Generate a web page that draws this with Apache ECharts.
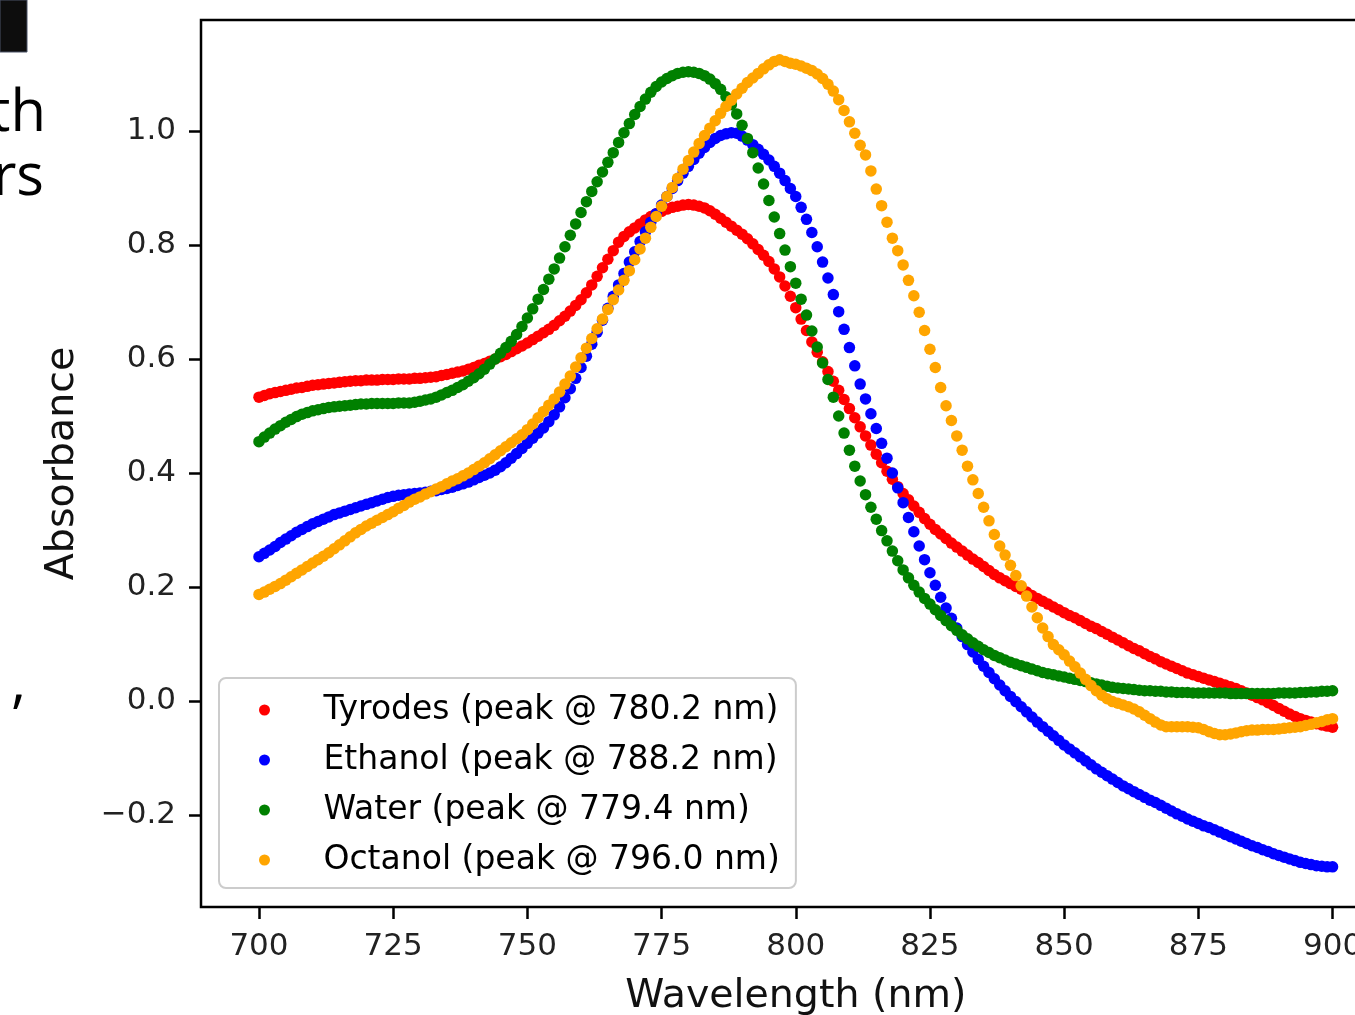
<!DOCTYPE html>
<html>
<head>
<meta charset="utf-8">
<script src="https://cdn.jsdelivr.net/npm/echarts@6/dist/echarts.min.js"></script>
<style>
html,body{margin:0;padding:0;background:#fff;overflow:hidden;width:1355px;height:1015px;}
#chart{width:1400px;height:1015px;}
</style>
</head>
<body>
<div id="chart"></div>
<script>
const wavelength = [
700,701,702,703,704,705,706,707,708,709,710,711,712,713,714,715,716,717,718,719,
720,721,722,723,724,725,726,727,728,729,730,731,732,733,734,735,736,737,738,739,
740,741,742,743,744,745,746,747,748,749,750,751,752,753,754,755,756,757,758,759,
760,761,762,763,764,765,766,767,768,769,770,771,772,773,774,775,776,777,778,779,
780,781,782,783,784,785,786,787,788,789,790,791,792,793,794,795,796,797,798,799,
800,801,802,803,804,805,806,807,808,809,810,811,812,813,814,815,816,817,818,819,
820,821,822,823,824,825,826,827,828,829,830,831,832,833,834,835,836,837,838,839,
840,841,842,843,844,845,846,847,848,849,850,851,852,853,854,855,856,857,858,859,
860,861,862,863,864,865,866,867,868,869,870,871,872,873,874,875,876,877,878,879,
880,881,882,883,884,885,886,887,888,889,890,891,892,893,894,895,896,897,898,899,
900];

const tyrodes = [
0.533,0.536,0.539,0.541,0.543,0.545,0.547,0.549,0.550,0.552,
0.554,0.555,0.556,0.557,0.558,0.559,0.560,0.561,0.562,0.562,
0.563,0.563,0.563,0.564,0.564,0.564,0.565,0.565,0.565,0.566,
0.566,0.567,0.568,0.569,0.571,0.573,0.575,0.577,0.579,0.582,
0.585,0.589,0.592,0.596,0.600,0.604,0.608,0.613,0.618,0.623,
0.628,0.634,0.640,0.646,0.652,0.659,0.667,0.675,0.684,0.694,
0.704,0.716,0.730,0.745,0.760,0.775,0.790,0.805,0.815,0.823,
0.830,0.837,0.844,0.850,0.855,0.859,0.863,0.866,0.868,0.870,
0.871,0.870,0.868,0.865,0.860,0.854,0.847,0.840,0.833,0.826,
0.819,0.811,0.802,0.792,0.782,0.771,0.758,0.744,0.728,0.710,
0.690,0.670,0.650,0.630,0.612,0.595,0.578,0.561,0.545,0.529,
0.513,0.497,0.481,0.465,0.449,0.433,0.418,0.403,0.389,0.376,
0.364,0.353,0.342,0.331,0.320,0.310,0.301,0.293,0.285,0.277,
0.270,0.263,0.256,0.249,0.243,0.236,0.229,0.222,0.216,0.211,
0.206,0.201,0.196,0.191,0.185,0.180,0.175,0.170,0.165,0.160,
0.155,0.150,0.146,0.141,0.136,0.131,0.127,0.122,0.117,0.112,
0.107,0.102,0.097,0.092,0.088,0.083,0.078,0.074,0.069,0.065,
0.061,0.057,0.053,0.049,0.046,0.043,0.040,0.037,0.034,0.031,
0.028,0.025,0.022,0.018,0.014,0.010,0.006,0.002,-0.003,-0.008,
-0.013,-0.018,-0.023,-0.027,-0.031,-0.034,-0.037,-0.040,-0.042,-0.044,
-0.046];

const ethanol = [
0.253,0.259,0.265,0.271,0.278,0.284,0.290,0.296,0.301,0.306,
0.311,0.315,0.319,0.323,0.327,0.330,0.333,0.336,0.339,0.342,
0.345,0.348,0.351,0.354,0.357,0.359,0.361,0.362,0.363,0.364,
0.365,0.366,0.368,0.369,0.371,0.373,0.375,0.378,0.381,0.384,
0.388,0.392,0.396,0.400,0.405,0.411,0.418,0.426,0.434,0.443,
0.452,0.461,0.470,0.479,0.490,0.502,0.516,0.532,0.548,0.566,
0.585,0.605,0.626,0.647,0.668,0.689,0.710,0.730,0.750,0.770,
0.788,0.806,0.823,0.840,0.855,0.870,0.885,0.899,0.913,0.926,
0.938,0.950,0.961,0.971,0.980,0.987,0.992,0.995,0.997,0.996,
0.991,0.984,0.976,0.968,0.959,0.949,0.938,0.926,0.913,0.899,
0.885,0.866,0.845,0.822,0.797,0.770,0.742,0.713,0.683,0.652,
0.620,0.588,0.556,0.530,0.504,0.478,0.452,0.426,0.400,0.374,
0.348,0.322,0.297,0.272,0.248,0.225,0.203,0.182,0.163,0.145,
0.128,0.113,0.099,0.086,0.073,0.061,0.050,0.039,0.028,0.018,
0.008,-0.001,-0.010,-0.019,-0.028,-0.037,-0.045,-0.053,-0.061,-0.069,
-0.077,-0.084,-0.091,-0.098,-0.105,-0.112,-0.119,-0.125,-0.131,-0.137,
-0.143,-0.149,-0.154,-0.159,-0.164,-0.169,-0.174,-0.178,-0.183,-0.188,
-0.193,-0.198,-0.202,-0.207,-0.211,-0.215,-0.219,-0.222,-0.226,-0.230,
-0.234,-0.238,-0.242,-0.246,-0.250,-0.254,-0.257,-0.261,-0.264,-0.268,
-0.271,-0.274,-0.277,-0.280,-0.283,-0.285,-0.287,-0.289,-0.290,-0.291,
-0.291];

const water = [
0.455,0.463,0.470,0.477,0.483,0.489,0.494,0.499,0.503,0.506,
0.509,0.511,0.513,0.515,0.516,0.517,0.518,0.519,0.520,0.521,
0.521,0.522,0.522,0.522,0.522,0.522,0.523,0.523,0.523,0.524,
0.526,0.528,0.530,0.533,0.537,0.541,0.545,0.550,0.555,0.561,
0.567,0.574,0.582,0.591,0.600,0.610,0.620,0.631,0.643,0.657,
0.672,0.688,0.705,0.722,0.740,0.758,0.777,0.797,0.817,0.837,
0.857,0.876,0.894,0.911,0.928,0.945,0.962,0.980,0.997,1.013,
1.029,1.043,1.056,1.068,1.078,1.086,1.092,1.097,1.101,1.103,
1.104,1.103,1.101,1.097,1.091,1.083,1.073,1.060,1.046,1.030,
1.010,0.987,0.962,0.935,0.907,0.878,0.849,0.820,0.791,0.762,
0.733,0.705,0.677,0.649,0.621,0.593,0.564,0.533,0.500,0.470,
0.440,0.412,0.386,0.362,0.340,0.319,0.299,0.281,0.263,0.246,
0.230,0.216,0.203,0.191,0.180,0.170,0.160,0.150,0.141,0.132,
0.124,0.116,0.109,0.102,0.096,0.090,0.085,0.080,0.076,0.072,
0.068,0.065,0.062,0.059,0.056,0.053,0.050,0.048,0.046,0.044,
0.042,0.040,0.038,0.036,0.034,0.032,0.030,0.028,0.026,0.024,
0.023,0.022,0.021,0.020,0.019,0.018,0.018,0.017,0.017,0.016,
0.016,0.015,0.015,0.015,0.014,0.014,0.014,0.014,0.014,0.014,
0.014,0.013,0.013,0.013,0.013,0.013,0.013,0.013,0.013,0.013,
0.014,0.014,0.014,0.014,0.015,0.015,0.016,0.016,0.017,0.017,
0.018];

const octanol = [
0.187,0.191,0.196,0.201,0.206,0.212,0.218,0.224,0.230,0.236,
0.242,0.248,0.254,0.260,0.267,0.274,0.281,0.288,0.295,0.301,
0.307,0.312,0.317,0.322,0.327,0.332,0.338,0.343,0.349,0.354,
0.358,0.363,0.367,0.372,0.376,0.381,0.386,0.390,0.395,0.400,
0.406,0.412,0.418,0.425,0.432,0.439,0.446,0.453,0.460,0.467,
0.476,0.486,0.497,0.508,0.519,0.530,0.542,0.556,0.570,0.586,
0.602,0.619,0.636,0.653,0.670,0.687,0.704,0.721,0.738,0.755,
0.774,0.793,0.812,0.831,0.850,0.868,0.885,0.901,0.917,0.933,
0.948,0.963,0.978,0.992,1.005,1.018,1.031,1.043,1.054,1.065,
1.075,1.085,1.093,1.101,1.109,1.116,1.122,1.125,1.122,1.119,
1.117,1.114,1.110,1.106,1.100,1.092,1.082,1.070,1.055,1.036,
1.016,0.996,0.975,0.958,0.930,0.898,0.869,0.840,0.812,0.790,
0.765,0.738,0.711,0.682,0.650,0.617,0.585,0.550,0.518,0.492,
0.465,0.440,0.412,0.388,0.364,0.340,0.316,0.292,0.272,0.256,
0.238,0.220,0.202,0.184,0.165,0.146,0.128,0.113,0.099,0.090,
0.081,0.070,0.060,0.049,0.038,0.027,0.018,0.010,0.004,-0.001,
-0.004,-0.007,-0.010,-0.014,-0.019,-0.025,-0.031,-0.037,-0.042,-0.045,
-0.045,-0.045,-0.045,-0.045,-0.046,-0.047,-0.050,-0.054,-0.057,-0.059,
-0.059,-0.058,-0.056,-0.054,-0.052,-0.051,-0.051,-0.050,-0.050,-0.050,
-0.049,-0.048,-0.047,-0.046,-0.045,-0.043,-0.041,-0.038,-0.036,-0.033,
-0.031];

const seriesNames = [
  'Tyrodes (peak @ 780.2 nm)',
  'Ethanol (peak @ 788.2 nm)',
  'Water (peak @ 779.4 nm)',
  'Octanol (peak @ 796.0 nm)'
];
const seriesValues = [tyrodes, ethanol, water, octanol];
const seriesColors = ['#ff0000', '#0000ff', '#008000', '#ffa500'];

const xTicks = [700, 725, 750, 775, 800, 825, 850, 875, 900];
const yTicks = [-0.2, 0.0, 0.2, 0.4, 0.6, 0.8, 1.0];

const FONT = 'DejaVu Sans';

const chart = echarts.init(document.getElementById('chart'), null, {renderer: 'canvas'});

const series = seriesNames.map((name, i) => ({
  name: name,
  type: 'scatter',
  data: wavelength.map((w, j) => [w, seriesValues[i][j]]),
  symbol: 'circle',
  symbolSize: 11.5,
  itemStyle: {color: seriesColors[i], opacity: 1},
  emphasis: {disabled: true},
  z: 2 + i
}));

chart.setOption({
  animation: false,
  backgroundColor: '#ffffff',
  grid: {
    left: 201, top: 20, width: 1189.5, height: 887,
    show: true, borderColor: '#000', borderWidth: 2.5, backgroundColor: 'transparent',
    containLabel: false, outerBoundsMode: 'none'
  },
  xAxis: {
    type: 'value', min: 689.2, max: 910.8,
    axisLine: {show: false, onZero: false},
    splitLine: {show: false},
    axisTick: {show: true, length: 12, lineStyle: {color: '#000', width: 2.5}, customValues: xTicks},
    axisLabel: {customValues: xTicks, fontSize: 31, color: '#222', fontFamily: FONT, margin: 24},
    name: 'Wavelength (nm)', nameLocation: 'middle', nameGap: 70,
    nameTextStyle: {fontSize: 39.5, color: '#111', fontFamily: FONT}
  },
  yAxis: {
    type: 'value', min: -0.3614, max: 1.1947,
    axisLine: {show: false, onZero: false},
    splitLine: {show: false},
    axisTick: {show: true, length: 12, lineStyle: {color: '#000', width: 2.5}, customValues: yTicks},
    axisLabel: {
      customValues: yTicks, fontSize: 31, color: '#222', fontFamily: FONT, margin: 25,
      formatter: v => (v < 0 ? '\u2212' : '') + Math.abs(v).toFixed(1)
    },
    name: 'Absorbance', nameLocation: 'middle', nameGap: 118, nameRotate: 90,
    nameTextStyle: {fontSize: 39.5, color: '#111', fontFamily: FONT}
  },
  legend: {
    orient: 'vertical', left: 219, top: 678,
    padding: [13, 16, 9, 40], itemGap: 12,
    itemWidth: 20, itemHeight: 11, icon: 'circle',
    backgroundColor: 'rgba(255,255,255,0.8)', borderColor: '#cccccc', borderWidth: 2, borderRadius: 7,
    textStyle: {fontSize: 33, color: '#000', fontFamily: FONT, padding: [0, 0, 0, 44], lineHeight: 38},
    data: seriesNames,
    selectedMode: false
  },
  series: series,
  graphic: [
    {type: 'rect', shape: {x: 0, y: 0, width: 27, height: 52},
     style: {fill: '#0d0d0d', stroke: '#4a5366', lineWidth: 1}},
    {type: 'text', x: 46, y: 114, style: {text: 'th', fill: '#000', font: '58px "Open Sans"', textAlign: 'right', textVerticalAlign: 'middle'}},
    {type: 'text', x: 44, y: 178, style: {text: 'rs', fill: '#000', font: '58px "Open Sans"', textAlign: 'right', textVerticalAlign: 'middle'}},
    {type: 'text', x: 26, y: 684, style: {text: ',', fill: '#000', font: '58px "Open Sans"', textAlign: 'right', textVerticalAlign: 'middle'}}
  ]
});
</script>
</body>
</html>
